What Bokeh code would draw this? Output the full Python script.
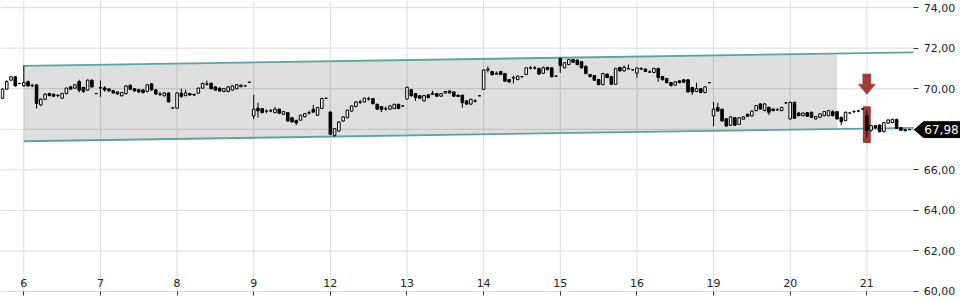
from bokeh.plotting import figure
from bokeh.models import (Range1d, FixedTicker, CustomJSTickFormatter, ColumnDataSource)
from bokeh.core.properties import value
from bokeh.embed import file_html
from bokeh.resources import INLINE

# ---------------- data ----------------
day_labels = ["6", "7", "8", "9", "12", "13", "14", "15", "16", "19", "20", "21"]
bars_per_day = 18
y_ticks = [60, 62, 64, 66, 68, 70, 72, 74]

# (open, high, low, close) per bar
day5 = [(69.53, 70.02, 69.50, 69.98), (69.98, 70.42, 69.95, 70.35), (70.42, 70.62, 70.38, 70.59),
        (70.59, 70.62, 70.10, 70.14), (70.26, 70.28, 70.24, 70.26)]
day6 = [(70.14, 71.15, 70.10, 70.30), (70.35, 70.40, 70.10, 70.14), (70.17, 70.24, 70.08, 70.14),
        (70.19, 70.22, 69.02, 69.27), (69.20, 69.52, 69.14, 69.48), (69.48, 69.78, 69.45, 69.73),
        (69.76, 69.80, 69.62, 69.66), (69.73, 69.76, 69.60, 69.63), (69.66, 69.72, 69.58, 69.68),
        (69.53, 69.80, 69.50, 69.76), (69.76, 70.06, 69.72, 70.03), (70.09, 70.14, 69.95, 69.98),
        (70.03, 70.24, 70.00, 70.19), (70.35, 70.44, 69.82, 69.93), (70.06, 70.10, 69.80, 69.86),
        (69.93, 70.46, 69.90, 70.42), (70.42, 70.46, 70.05, 70.09), (69.76, 69.78, 69.74, 69.76)]
day7 = [(70.06, 70.40, 69.60, 70.03), (70.04, 70.12, 69.85, 69.94), (69.99, 70.02, 69.86, 69.89),
        (69.90, 69.93, 69.76, 69.79), (69.84, 69.86, 69.70, 69.74), (69.65, 69.84, 69.62, 69.81),
        (69.76, 70.18, 69.72, 70.14), (70.17, 70.21, 69.94, 69.97), (70.00, 70.03, 69.86, 69.89),
        (69.95, 69.98, 69.80, 69.84), (69.94, 69.97, 69.76, 69.81), (69.86, 70.23, 69.83, 70.19),
        (70.24, 70.28, 69.90, 69.94), (69.94, 69.98, 69.70, 69.74), (69.74, 69.84, 69.64, 69.72),
        (69.65, 69.82, 69.62, 69.79), (69.79, 69.82, 69.32, 69.35), (69.05, 69.07, 69.03, 69.05)]
day8 = [(69.04, 69.82, 69.02, 69.79), (69.78, 70.00, 69.55, 69.62), (69.66, 69.95, 69.63, 69.79),
        (69.76, 69.80, 69.66, 69.69), (69.72, 69.75, 69.66, 69.69), (69.78, 70.06, 69.75, 70.03),
        (70.03, 70.30, 70.00, 70.26), (70.22, 70.40, 70.15, 70.24), (70.27, 70.30, 69.97, 70.00),
        (70.09, 70.12, 69.90, 69.93), (70.03, 70.06, 69.86, 69.89), (69.86, 70.03, 69.83, 70.00),
        (69.86, 70.12, 69.83, 70.09), (69.93, 70.17, 69.90, 70.14), (70.00, 70.23, 69.97, 70.20),
        (70.10, 70.22, 70.07, 70.17), (70.14, 70.16, 70.12, 70.14), (70.32, 70.34, 70.30, 70.32)]
day9 = [(68.66, 69.70, 68.50, 68.99), (69.04, 69.31, 68.57, 68.91), (69.02, 69.05, 68.78, 68.82),
        (68.88, 68.98, 68.80, 68.90), (68.90, 69.00, 68.84, 68.92), (68.82, 69.10, 68.79, 68.99),
        (68.99, 69.02, 68.76, 68.79), (68.74, 68.90, 68.71, 68.87), (68.82, 68.85, 68.38, 68.41),
        (68.57, 68.60, 68.33, 68.36), (68.44, 68.47, 68.20, 68.31), (68.45, 68.72, 68.42, 68.69),
        (68.62, 68.80, 68.59, 68.77), (68.80, 68.92, 68.72, 68.82), (68.98, 69.20, 68.80, 68.85),
        (68.69, 69.10, 68.66, 69.07), (69.03, 69.55, 69.00, 69.52), (69.53, 69.55, 69.51, 69.53)]
day12 = [(68.85, 68.88, 67.72, 67.75), (67.70, 68.06, 67.62, 68.03), (67.91, 68.39, 67.88, 68.36),
         (68.41, 68.64, 68.38, 68.61), (68.57, 68.97, 68.54, 68.94), (68.90, 69.18, 68.87, 69.15),
         (69.12, 69.38, 69.09, 69.35), (69.33, 69.45, 69.25, 69.35), (69.35, 69.56, 69.32, 69.53),
         (69.49, 69.60, 69.42, 69.51), (69.51, 69.54, 69.23, 69.26), (69.23, 69.26, 68.96, 68.99),
         (69.12, 69.15, 68.85, 68.97), (69.00, 69.12, 68.92, 69.02), (68.99, 69.18, 68.96, 69.15),
         (69.02, 69.26, 68.99, 69.23), (69.23, 69.26, 68.99, 69.02), (69.15, 69.17, 69.13, 69.15)]
day13 = [(69.49, 70.10, 69.46, 70.07), (69.95, 69.98, 69.62, 69.65), (69.76, 69.79, 69.40, 69.56),
         (69.66, 69.69, 69.50, 69.53), (69.40, 69.69, 69.37, 69.66), (69.70, 69.73, 69.53, 69.56),
         (69.72, 69.90, 69.69, 69.78), (69.76, 69.79, 69.60, 69.63), (69.63, 69.79, 69.60, 69.76),
         (69.79, 69.89, 69.76, 69.86), (69.89, 69.92, 69.76, 69.79), (69.84, 69.87, 69.60, 69.63),
         (69.68, 69.71, 69.59, 69.62), (69.68, 69.71, 69.06, 69.31), (69.40, 69.43, 69.21, 69.24),
         (69.24, 69.51, 69.21, 69.48), (69.38, 69.48, 69.32, 69.40), (69.65, 69.67, 69.63, 69.65)]
day14 = [(69.97, 70.95, 69.94, 70.92), (70.92, 71.10, 70.80, 70.97), (70.85, 70.88, 70.66, 70.69),
         (70.72, 70.85, 70.69, 70.76), (70.85, 70.88, 70.67, 70.70), (70.75, 70.78, 70.34, 70.37),
         (70.45, 70.48, 70.28, 70.34), (70.52, 70.65, 70.26, 70.55), (70.45, 70.65, 70.42, 70.62),
         (70.59, 70.61, 70.57, 70.59), (70.70, 71.06, 70.67, 71.03), (71.01, 71.12, 70.95, 71.03),
         (71.01, 71.12, 70.95, 71.03), (71.00, 71.03, 70.69, 70.72), (70.76, 71.10, 70.73, 71.03),
         (71.05, 71.08, 70.91, 70.94), (71.03, 71.06, 70.56, 70.59), (70.62, 70.64, 70.60, 70.62)]
day15 = [(71.49, 71.52, 70.78, 71.15), (71.03, 71.31, 71.00, 71.28), (71.19, 71.47, 71.16, 71.44),
         (71.44, 71.47, 71.28, 71.31), (71.41, 71.44, 71.16, 71.19), (71.33, 71.36, 71.00, 71.03),
         (71.11, 71.14, 70.72, 70.75), (70.70, 70.73, 70.55, 70.60), (70.65, 70.68, 70.39, 70.42),
         (70.45, 70.48, 70.17, 70.20), (70.20, 70.78, 70.17, 70.75), (70.72, 70.75, 70.52, 70.55),
         (70.60, 70.63, 70.19, 70.22), (70.22, 71.03, 70.19, 71.00), (71.05, 71.08, 70.85, 70.88),
         (70.88, 71.15, 70.85, 71.05), (70.98, 71.20, 70.95, 71.00), (70.93, 70.95, 70.91, 70.93)]
day16 = [(70.77, 71.05, 70.55, 71.02), (71.00, 71.05, 70.92, 70.97), (70.97, 71.00, 70.82, 70.85),
         (70.82, 70.92, 70.78, 70.83), (70.80, 71.03, 70.77, 71.00), (71.00, 71.03, 70.34, 70.55),
         (70.60, 70.63, 70.41, 70.44), (70.50, 70.53, 70.27, 70.30), (70.30, 70.33, 70.10, 70.17),
         (70.17, 70.37, 70.14, 70.34), (70.39, 70.42, 70.27, 70.30), (70.44, 70.47, 70.29, 70.32),
         (70.44, 70.47, 69.81, 69.84), (70.06, 70.09, 69.70, 69.84), (69.86, 70.30, 69.83, 70.00),
         (70.00, 70.03, 69.78, 69.81), (69.81, 70.12, 69.78, 70.09), (70.30, 70.32, 70.28, 70.30)]
day19 = [(68.66, 69.35, 68.16, 68.99), (69.07, 69.30, 68.87, 68.90), (68.99, 69.02, 68.38, 68.41),
         (68.52, 68.55, 68.13, 68.16), (68.20, 68.64, 68.17, 68.61), (68.57, 68.60, 68.17, 68.20),
         (68.24, 68.60, 68.21, 68.57), (68.50, 68.64, 68.47, 68.61), (68.74, 68.77, 68.61, 68.64),
         (68.66, 68.93, 68.63, 68.90), (68.92, 69.20, 68.89, 69.17), (69.25, 69.28, 68.97, 69.00),
         (68.92, 69.28, 68.89, 69.25), (69.08, 69.11, 68.70, 68.84), (69.00, 69.03, 68.89, 68.92),
         (68.95, 69.05, 68.90, 68.97), (68.92, 69.11, 68.89, 69.08), (69.30, 69.32, 69.28, 69.30)]
day20 = [(68.51, 69.36, 68.48, 69.33), (69.33, 69.36, 68.51, 68.54), (68.80, 68.86, 68.64, 68.67),
         (68.67, 68.83, 68.64, 68.80), (68.82, 68.85, 68.61, 68.64), (68.84, 68.87, 68.56, 68.59),
         (68.51, 68.65, 68.48, 68.62), (68.59, 68.79, 68.56, 68.76), (68.67, 68.90, 68.64, 68.87),
         (68.67, 68.95, 68.64, 68.92), (68.87, 68.95, 68.64, 68.67), (68.87, 68.90, 68.48, 68.51),
         (68.59, 68.62, 68.20, 68.37), (68.43, 68.87, 68.40, 68.84), (68.80, 68.82, 68.78, 68.80),
         (68.87, 68.94, 68.80, 68.87), (68.90, 68.96, 68.84, 68.90), (69.00, 69.02, 68.98, 69.00)]
day21 = [(68.67, 68.92, 67.58, 67.93), (67.95, 68.22, 67.88, 68.18), (68.18, 68.21, 68.02, 68.08),
         (68.21, 68.24, 67.85, 67.88), (67.88, 68.36, 67.85, 68.33), (68.30, 68.49, 68.27, 68.46),
         (68.33, 68.52, 68.30, 68.49), (68.49, 68.52, 68.02, 68.05), (68.08, 68.11, 67.92, 67.95),
         (67.98, 68.00, 67.90, 67.93), (67.98, 68.00, 67.96, 67.98)]

# trend channel (bar index, upper, lower)
channel_x = [0, 209]
channel_upper = [71.13, 71.79]
channel_lower = [67.41, 68.07]
channel_fill_x = [0, 191]
channel_fill_upper = [71.13, 71.73]
channel_fill_lower = [67.41, 68.01]

# sell signal on day 21 (first bar of the day)
signal_day = "21"
signal_band = [67.37, 69.08]       # highlighted range behind the signal bar
signal_arrow = [70.73, 69.72]      # arrow top, arrow tip

# ---------------- build ----------------
ohlc = day5 + day6 + day7 + day8 + day9 + day12 + day13 + day14 + day15 + day16 + day19 + day20 + day21
first_index = -len(day5)
xs = list(range(first_index, first_index + len(ohlc)))
opens = [b[0] for b in ohlc]
highs = [b[1] for b in ohlc]
lows = [b[2] for b in ohlc]
closes = [b[3] for b in ohlc]

fills = ["white" if c > o else "black" for o, c in zip(opens, closes)]
src = ColumnDataSource(dict(x=xs, o=opens, h=highs, l=lows, c=closes,
                            top=[max(o, c) for o, c in zip(opens, closes)],
                            bottom=[min(o, c) for o, c in zip(opens, closes)],
                            fill=fills))

tick_pos = [i * bars_per_day for i in range(len(day_labels))]
x_start, x_end = -5.47, 220.0
y_start, y_end = 59.556, 74.35
price_edge = 209          # right edge of the price area (bar index); y axis sits here
price_floor = y_ticks[0]  # bottom of the price area; x axis sits here

p = figure(width=960, height=300, output_backend="svg", toolbar_location=None,
           x_range=Range1d(x_start, x_end), y_range=Range1d(y_start, y_end),
           y_axis_location="right", min_border_left=0, min_border_top=0,
           min_border_right=0, min_border_bottom=0)
p.outline_line_color = None
p.background_fill_color = "white"
p.border_fill_color = "white"

grid_color = "#dadada"
p.xgrid.grid_line_color = None
p.ygrid.grid_line_color = None
# grid lines limited to the price area
p.segment(x0=[x_start] * len(y_ticks), y0=y_ticks, x1=[price_edge] * len(y_ticks), y1=y_ticks,
          line_color=grid_color, line_width=1, level="underlay")
p.segment(x0=tick_pos, y0=[price_floor] * len(tick_pos), x1=tick_pos, y1=[y_end] * len(tick_pos),
          line_color=grid_color, line_width=1, level="underlay")

# x axis (fixed on the 60 line)
p.xaxis.fixed_location = price_floor
p.xaxis.ticker = FixedTicker(ticks=tick_pos)
p.xaxis.major_label_overrides = {t: lab for t, lab in zip(tick_pos, day_labels)}
p.xaxis.bounds = (x_start, price_edge)
p.xaxis.axis_line_color = grid_color
p.xaxis.major_tick_line_color = "#333333"
p.xaxis.major_tick_out = 4
p.xaxis.major_tick_in = 0
p.xaxis.minor_tick_line_color = None
p.xaxis.major_label_standoff = -16
p.xaxis.major_label_text_font = "DejaVu Sans"
p.xaxis.major_label_text_font_size = "11px"
p.xaxis.major_label_text_color = "#222222"

# y axis (right, fixed at the price-area edge)
p.yaxis.fixed_location = price_edge
p.yaxis.ticker = FixedTicker(ticks=y_ticks)
p.yaxis.formatter = CustomJSTickFormatter(code="return tick.toFixed(2).replace('.', ',');")
p.yaxis.axis_line_color = None
p.yaxis.major_tick_line_color = "#333333"
p.yaxis.major_tick_out = 5
p.yaxis.major_tick_in = 0
p.yaxis.minor_tick_line_color = None
p.yaxis.major_label_standoff = 5
p.yaxis.major_label_text_font = "DejaVu Sans"
p.yaxis.major_label_text_font_size = "11px"
p.yaxis.major_label_text_color = "#222222"

# channel fill
p.varea(x=channel_fill_x, y1=channel_fill_lower, y2=channel_fill_upper,
        fill_color="black", fill_alpha=0.13)
# channel lines
teal = "#5aa3a5"
p.line(channel_x, channel_upper, line_color=teal, line_width=1.8)
p.line(channel_x, channel_lower, line_color=teal, line_width=1.8)

# signal highlight + arrow
sig_x = tick_pos[day_labels.index(signal_day)]
red = "#a03d38"
p.vbar(x=[sig_x], width=1.4, top=[signal_band[1]], bottom=[signal_band[0]],
       fill_color=red, line_color=red, line_width=2, line_join="round")
neck = signal_arrow[1] + (signal_arrow[0] - signal_arrow[1]) * 0.5
p.patch([sig_x - 0.95, sig_x + 0.95, sig_x + 0.95, sig_x + 2.0, sig_x, sig_x - 2.0, sig_x - 0.95],
        [signal_arrow[0], signal_arrow[0], neck, neck, signal_arrow[1], neck, neck],
        fill_color=red, line_color=red, line_width=0.5)

# candles
p.segment(x0="x", y0="h", x1="x", y1="l", source=src, line_color="black", line_width=1)
p.vbar(x="x", width=0.6, top="top", bottom="bottom", source=src,
       fill_color="fill", line_color="black", line_width=1)

# last price tag (drawn over the axis)
last = closes[-1]
half = 0.39
tip_x, box_x = price_edge + 0.2, price_edge + 2.3
p.patch([tip_x, box_x, x_end, x_end, box_x],
        [last, last + half, last + half, last - half, last - half],
        fill_color="black", line_color="black", level="overlay")
p.text(x=[box_x + 0.2], y=[last], text=[f"{last:.2f}".replace(".", ",")],
       text_color="white", text_font=value("DejaVu Sans"), text_font_size="12px",
       text_baseline="middle", text_align="left", level="overlay")

open("out.html", "w").write(file_html(p, INLINE))
